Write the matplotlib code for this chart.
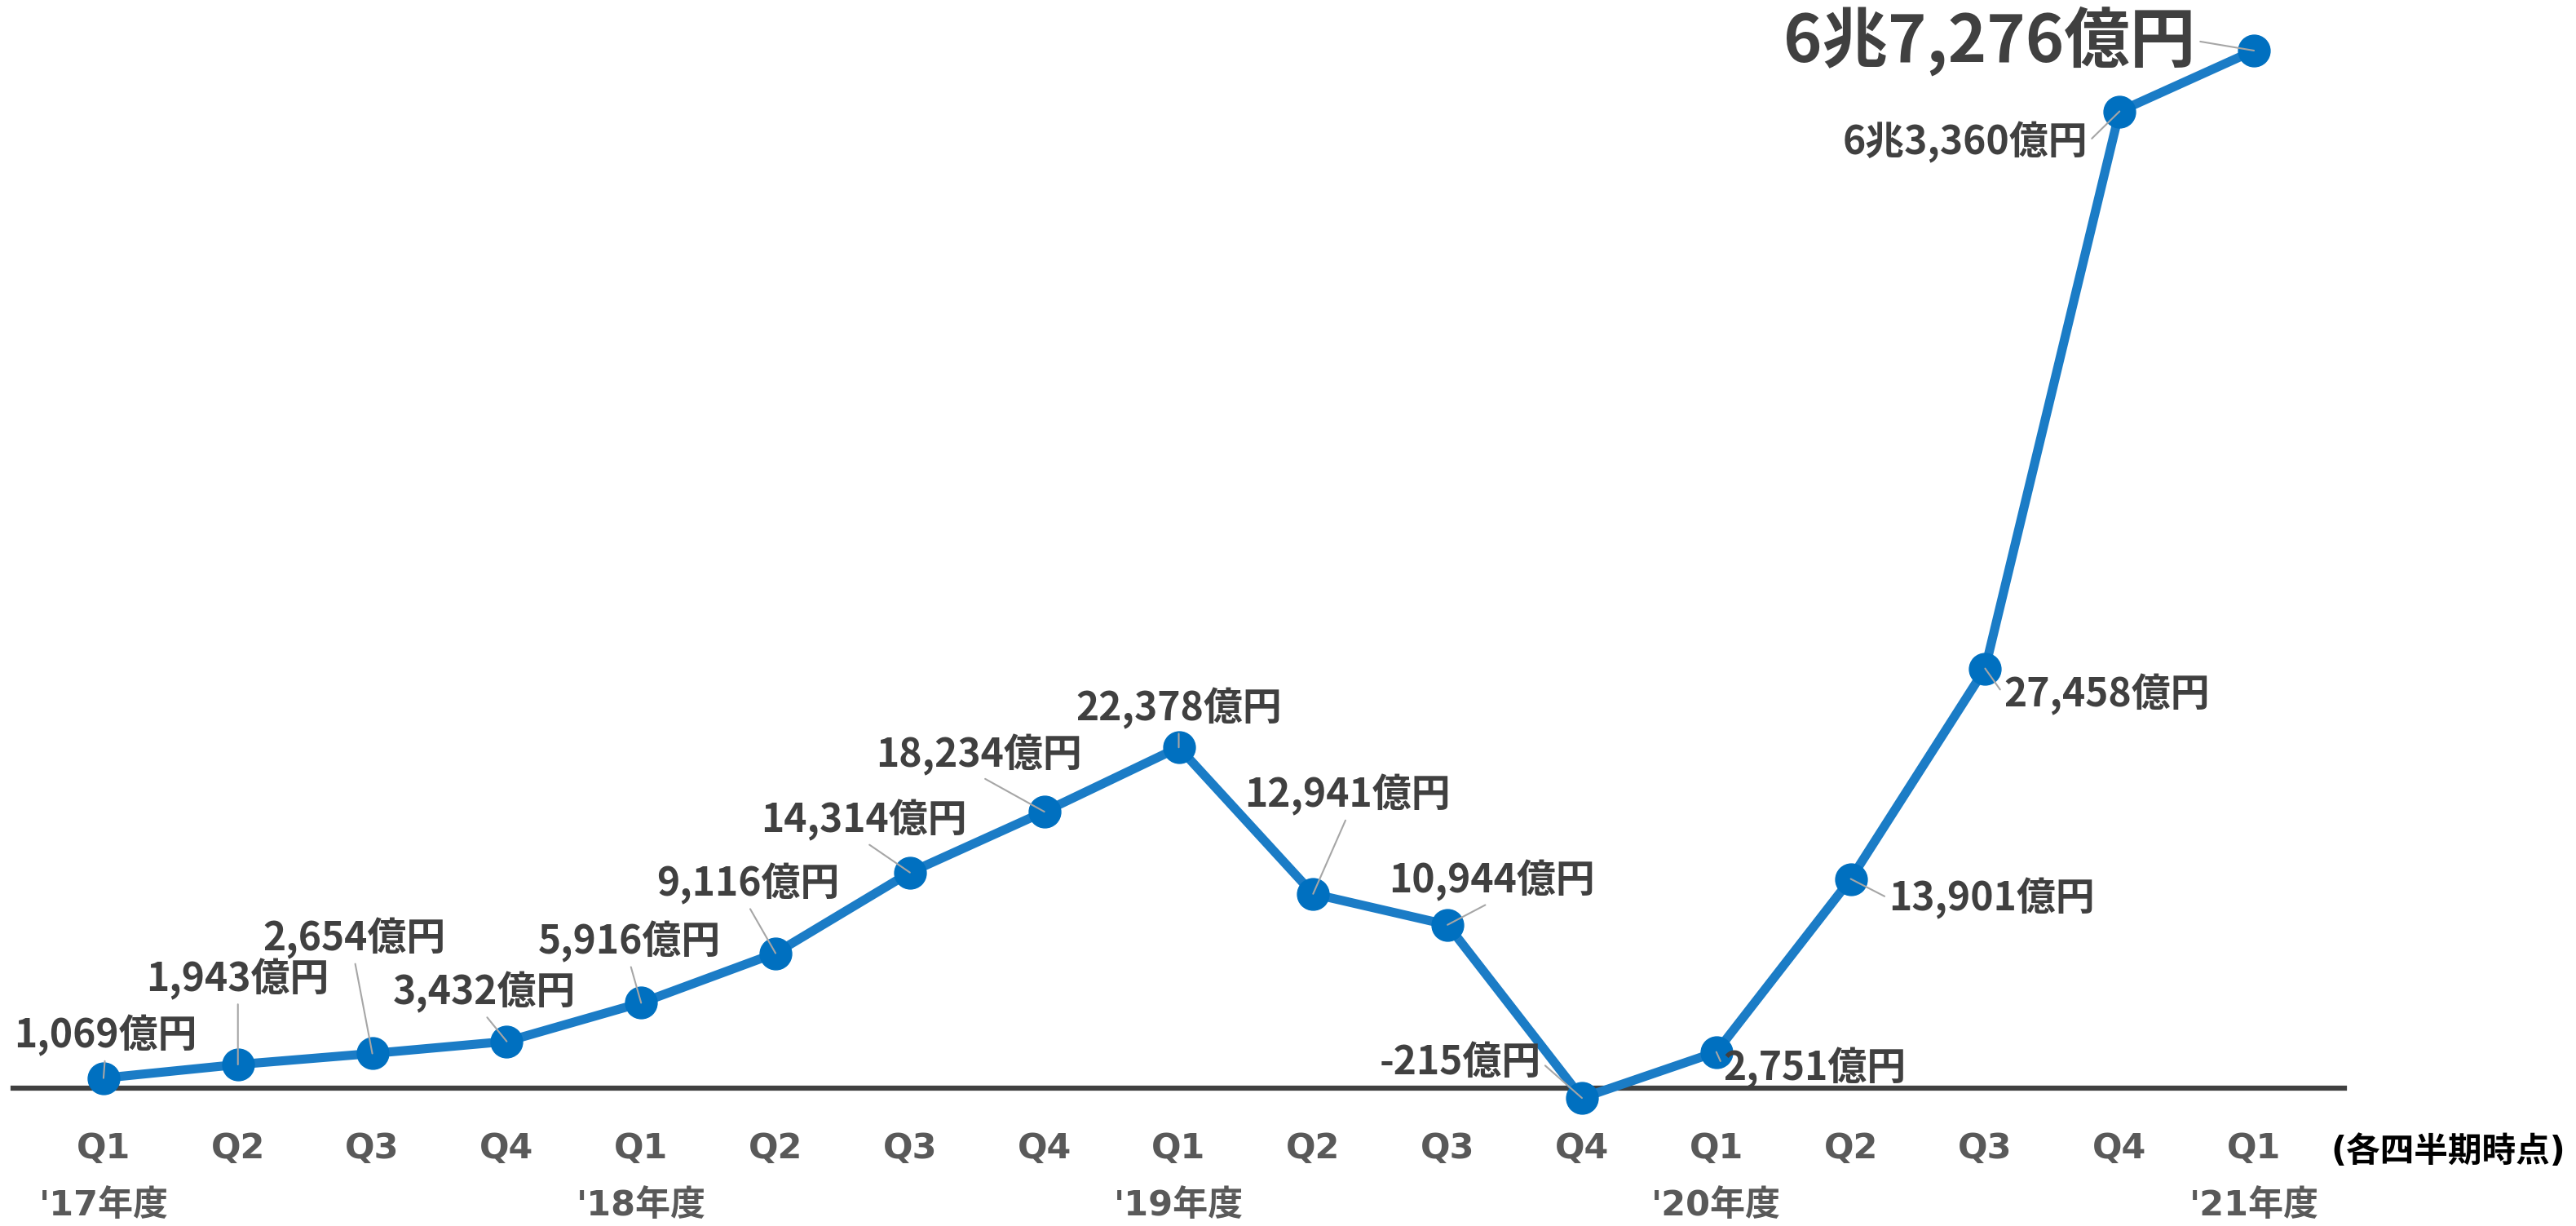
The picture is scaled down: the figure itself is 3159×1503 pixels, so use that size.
import matplotlib
import numpy as np

matplotlib.use("Agg")  # headless backend
import matplotlib.pyplot as plt

# --- data -------------------------------------------------------------
quarters = ["Q1", "Q2", "Q3", "Q4", "Q1", "Q2", "Q3", "Q4", "Q1",
            "Q2", "Q3", "Q4", "Q1", "Q2", "Q3", "Q4", "Q1"]
fiscal_years = ["'17年度", "", "", "", "'18年度", "", "", "", "'19年度",
                "", "", "", "'20年度", "", "", "", "'21年度"]
values = [1069, 1943, 2654, 3432, 5916, 9116, 14314, 18234, 22378,
          12941, 10944, -215, 2751, 13901, 27458, 63360, 67276]
value_labels = ["1,069億円", "1,943億円", "2,654億円", "3,432億円", "5,916億円",
                "9,116億円", "14,314億円", "18,234億円", "22,378億円",
                "12,941億円", "10,944億円", "-215億円", "2,751億円",
                "13,901億円", "27,458億円", "6兆3,360億円", "6兆7,276億円"]

# label placement relative to each point, in pixels (dx, dy up)
label_offsets = [(2, 52), (0, 105), (-22, 141), (-28, 60), (-14, 75),
                 (-34, 85), (-56, 64), (-80, 70), (0, 48), (42, 121),
                 (54, 54), (-149, 44), (121, -20), (173, -24), (149, -32),
                 (-189, -38), (-324, 12)]

W, H = 3159, 1503
LINE = "#1B7CC6"
MARKER = "#0070C0"
TEXT = "#404040"
CJK = ["Noto Sans CJK JP", "DejaVu Sans"]
LATIN = ["DejaVu Sans", "Noto Sans CJK JP"]

fig = plt.figure(figsize=(W / 100, H / 100), dpi=100)
ax = fig.add_axes([16 / W, 169 / H, (2875 - 16) / W, 1 - 169 / H])

x = np.arange(len(values))
ax.plot(x, values, color=LINE, lw=8, marker="o", ms=28,
        mfc=MARKER, mec=MARKER, clip_on=False, zorder=3)

for i, (v, lab, (dx, dy)) in enumerate(zip(values, value_labels, label_offsets)):
    if abs(dx) > 100:
        relpos = (1, 0.5) if dx < 0 else (0, 0.5)
    elif dy > 0:
        relpos = (0.5, 0)
    else:
        relpos = (0.5, 1)
    big = i == len(values) - 1
    ax.annotate(lab, (i, v), xytext=(dx, dy), textcoords="offset pixels",
                ha="center", va="center", fontsize=58 if big else 34.5,
                fontweight="bold", color=TEXT, family=CJK, zorder=5,
                annotation_clip=False,
                arrowprops=dict(arrowstyle="-", color="#A6A6A6", lw=1.5,
                                shrinkA=2, shrinkB=0, relpos=relpos))

# Excel draws the category axis a little above the data zero
ax.set_xlim(-0.673, 16.673)
ax.set_ylim(420, 70535)
ax.set_xticks(x)
ax.set_xticklabels([f"{q}\n{y}" for q, y in zip(quarters, fiscal_years)],
                   fontsize=31, fontweight="bold", color="#595959",
                   family=LATIN, linespacing=1.85)
ax.tick_params(axis="x", length=0, pad=38)
ax.set_yticks([])
for name, s in ax.spines.items():
    s.set_visible(name == "bottom")
ax.spines["bottom"].set_color(TEXT)
ax.spines["bottom"].set_linewidth(4.5)
ax.spines["bottom"].set_zorder(1)

fig.text(3002 / W, 1 - 1412 / H, "(各四半期時点)", ha="center", va="center",
         fontsize=30, fontweight="bold", color="black", family=LATIN)

fig.savefig("out.png", dpi=100)
plt.close(fig)
